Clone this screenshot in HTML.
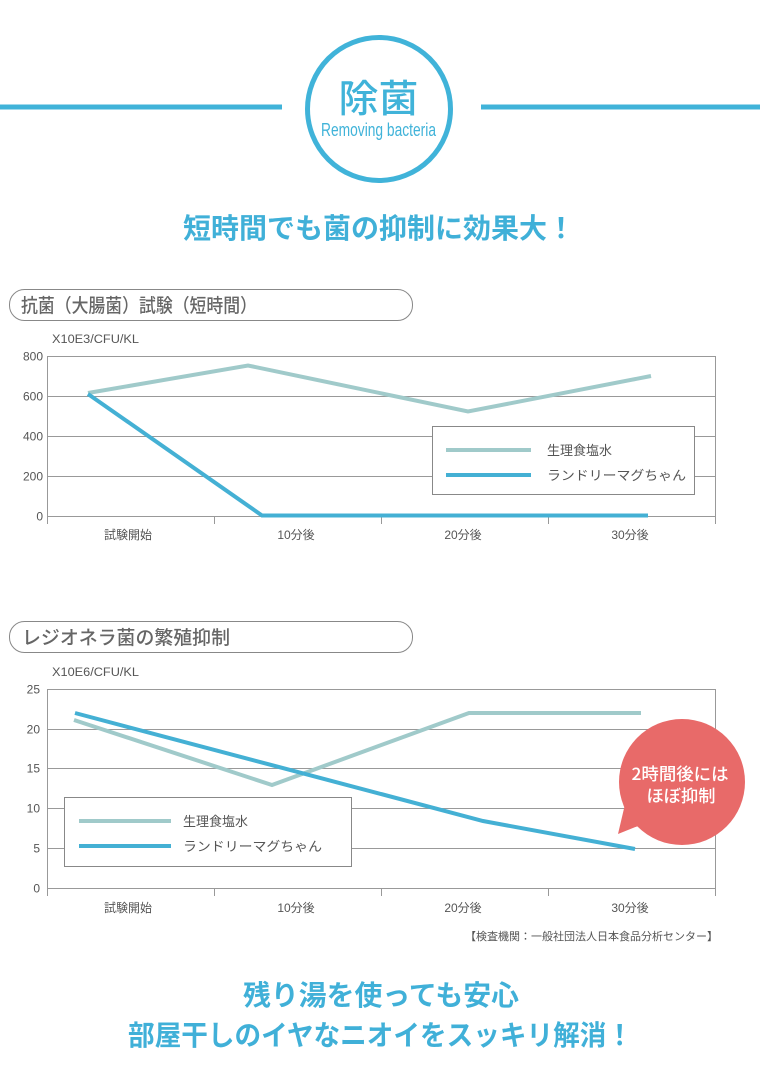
<!DOCTYPE html>
<html><head><meta charset="utf-8">
<style>
html,body{margin:0;padding:0;background:#fff;}
svg{display:block;}
text{font-family:"Liberation Sans","Noto Sans CJK JP",sans-serif;}
.jp{font-family:"Noto Sans CJK JP","Liberation Sans",sans-serif;}
</style></head>
<body>
<svg width="760" height="1089" viewBox="0 0 760 1089" xmlns="http://www.w3.org/2000/svg">
<rect width="760" height="1089" fill="#fff"/>
<!-- header -->
<rect x="0" y="104.5" width="282" height="5" fill="#40b3d9"/>
<rect x="481" y="104.5" width="279" height="5" fill="#40b3d9"/>
<circle cx="379" cy="109" r="71.5" fill="#fff" stroke="#40b3d9" stroke-width="5"/>
<text x="378.5" y="112" text-anchor="middle" class="jp" font-size="38" font-weight="500" fill="#40b3d9" textLength="80" lengthAdjust="spacingAndGlyphs">除菌</text>
<text x="321" y="136" font-size="18" fill="#40b3d9" textLength="115" lengthAdjust="spacingAndGlyphs" style="font-family:'Liberation Sans Narrow','Liberation Sans',sans-serif">Removing bacteria</text>
<text x="183" y="238" class="jp" font-size="28" font-weight="700" fill="#40b0d8" textLength="392" lengthAdjust="spacingAndGlyphs">短時間でも菌の抑制に効果大！</text>

<!-- section 1 header -->
<rect x="9.5" y="289.5" width="403" height="31" rx="15" ry="15" fill="#fff" stroke="#888" stroke-width="1"/>
<text x="21" y="312" class="jp" font-size="19" font-weight="500" fill="#666" textLength="236" lengthAdjust="spacingAndGlyphs">抗菌（大腸菌）試験（短時間）</text>

<!-- chart 1 -->
<text x="52" y="343" font-size="11.5" fill="#555" textLength="87" lengthAdjust="spacingAndGlyphs">X10E3/CFU/KL</text>
<g stroke="#999" stroke-width="1" fill="none">
<line x1="47" y1="356.5" x2="715" y2="356.5"/>
<line x1="47" y1="396.5" x2="715" y2="396.5"/>
<line x1="47" y1="436.5" x2="715" y2="436.5"/>
<line x1="47" y1="476.5" x2="715" y2="476.5"/>
<line x1="47" y1="516.5" x2="715" y2="516.5"/>
<line x1="47.5" y1="356" x2="47.5" y2="524"/>
<line x1="715.5" y1="356" x2="715.5" y2="524"/>
<line x1="214.5" y1="516" x2="214.5" y2="524"/>
<line x1="381.5" y1="516" x2="381.5" y2="524"/>
<line x1="548.5" y1="516" x2="548.5" y2="524"/>
</g>
<g font-size="12" fill="#555" text-anchor="end">
<text x="43" y="360.5">800</text>
<text x="43" y="400.5">600</text>
<text x="43" y="440.5">400</text>
<text x="43" y="480.5">200</text>
<text x="43" y="520.5">0</text>
</g>
<g font-size="12" fill="#555" text-anchor="middle" class="jp">
<text x="128" y="539">試験開始</text>
<text x="296" y="539">10分後</text>
<text x="463" y="539">20分後</text>
<text x="630" y="539">30分後</text>
</g>
<polyline points="88,393 248,365.5 468,411.5 651,376" fill="none" stroke="#a0caca" stroke-width="4" stroke-linejoin="miter"/>
<polyline points="88,394 262,515.5 648,515.5" fill="none" stroke="#44b0d4" stroke-width="4"/>
<rect x="432.5" y="426.5" width="262" height="68" fill="#fff" stroke="#888" stroke-width="1"/>
<line x1="446" y1="450" x2="531" y2="450" stroke="#a0caca" stroke-width="4"/>
<line x1="446" y1="475" x2="531" y2="475" stroke="#44b0d4" stroke-width="4"/>
<text x="547" y="455" class="jp" font-size="13" fill="#555">生理食塩水</text>
<text x="547" y="480" class="jp" font-size="13" fill="#555" textLength="139" lengthAdjust="spacingAndGlyphs">ランドリーマグちゃん</text>

<!-- section 2 header -->
<rect x="9.5" y="621.5" width="403" height="31" rx="15" ry="15" fill="#fff" stroke="#888" stroke-width="1"/>
<text x="22" y="644" class="jp" font-size="19" font-weight="500" fill="#666" textLength="208" lengthAdjust="spacingAndGlyphs">レジオネラ菌の繁殖抑制</text>

<!-- chart 2 -->
<text x="52" y="676" font-size="11.5" fill="#555" textLength="87" lengthAdjust="spacingAndGlyphs">X10E6/CFU/KL</text>
<g stroke="#999" stroke-width="1" fill="none">
<line x1="47" y1="689.5" x2="715" y2="689.5"/>
<line x1="47" y1="729.5" x2="715" y2="729.5"/>
<line x1="47" y1="768.5" x2="715" y2="768.5"/>
<line x1="47" y1="808.5" x2="715" y2="808.5"/>
<line x1="47" y1="848.5" x2="715" y2="848.5"/>
<line x1="47" y1="888.5" x2="715" y2="888.5"/>
<line x1="47.5" y1="689" x2="47.5" y2="896"/>
<line x1="715.5" y1="689" x2="715.5" y2="896"/>
<line x1="214.5" y1="888" x2="214.5" y2="896"/>
<line x1="381.5" y1="888" x2="381.5" y2="896"/>
<line x1="548.5" y1="888" x2="548.5" y2="896"/>
</g>
<g font-size="12" fill="#555" text-anchor="end">
<text x="40" y="693.5">25</text>
<text x="40" y="733.5">20</text>
<text x="40" y="772.5">15</text>
<text x="40" y="812.5">10</text>
<text x="40" y="852.5">5</text>
<text x="40" y="892.5">0</text>
</g>
<g font-size="12" fill="#555" text-anchor="middle" class="jp">
<text x="128" y="912">試験開始</text>
<text x="296" y="912">10分後</text>
<text x="463" y="912">20分後</text>
<text x="630" y="912">30分後</text>
</g>
<polyline points="74,720 272,785 469,713 641,713" fill="none" stroke="#a0caca" stroke-width="4"/>
<polyline points="75,713 483,821 635,849" fill="none" stroke="#44b0d4" stroke-width="4"/>
<rect x="64.5" y="797.5" width="287" height="69" fill="#fff" stroke="#888" stroke-width="1"/>
<line x1="79" y1="821" x2="171" y2="821" stroke="#a0caca" stroke-width="4"/>
<line x1="79" y1="846" x2="171" y2="846" stroke="#44b0d4" stroke-width="4"/>
<text x="183" y="826" class="jp" font-size="13" fill="#555">生理食塩水</text>
<text x="183" y="851" class="jp" font-size="13" fill="#555" textLength="139" lengthAdjust="spacingAndGlyphs">ランドリーマグちゃん</text>

<!-- bubble -->
<circle cx="682" cy="782" r="63" fill="#e86a69"/>
<polygon points="626,800 618,834 648,822" fill="#e86a69"/>
<text x="680" y="780" text-anchor="middle" class="jp" font-size="17" font-weight="500" fill="#fff" textLength="97" lengthAdjust="spacingAndGlyphs">2時間後には</text>
<text x="681" y="802" text-anchor="middle" class="jp" font-size="17" font-weight="500" fill="#fff" textLength="69" lengthAdjust="spacingAndGlyphs">ほぼ抑制</text>

<text x="718" y="940" text-anchor="end" class="jp" font-size="11" fill="#555">【検査機関：一般社団法人日本食品分析センター】</text>

<!-- bottom -->
<text x="243" y="1005" class="jp" font-size="28" font-weight="700" fill="#40b0d8" textLength="276" lengthAdjust="spacingAndGlyphs">残り湯を使っても安心</text>
<text x="128" y="1045" class="jp" font-size="28" font-weight="700" fill="#40b0d8" textLength="505" lengthAdjust="spacingAndGlyphs">部屋干しのイヤなニオイをスッキリ解消！</text>
</svg>
</body></html>
